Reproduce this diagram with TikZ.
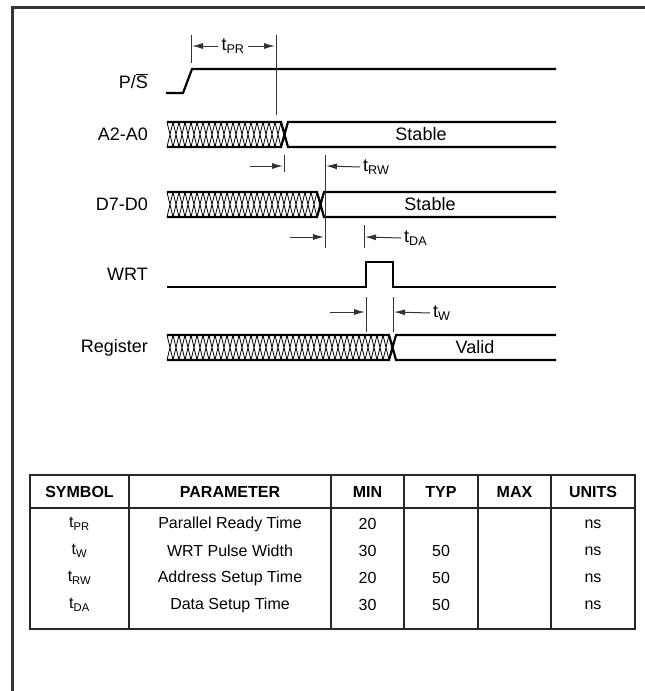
\documentclass[tikz,border=0pt]{standalone}
\usepackage{fontspec}
\setmainfont{Liberation Sans}
\usetikzlibrary{arrows.meta}
\usetikzlibrary{positioning}

\begin{document}
\begin{tikzpicture}[x=1pt,y=-1pt,
  sig/.style={line width=2.2pt,line join=miter},
  hatch/.style={line width=0.8pt},
  dim/.style={line width=1pt,color=black!80},
  dimarrow/.style={dim,-{Latex[length=11pt,width=6pt]}},
  lbl/.style={anchor=east,inner sep=0pt,font=\fontsize{18}{20}\selectfont},
  tlbl/.style={anchor=west,inner sep=0pt,font=\fontsize{18}{20}\selectfont},
  txt/.style={inner sep=0pt,font=\fontsize{18}{20}\selectfont},
  cell/.style={inner sep=0pt,font=\fontsize{16}{18}\selectfont},
  head/.style={inner sep=0pt,font=\fontsize{16}{18}\selectfont\bfseries},
  grid/.style={line width=2pt,color=black!85}]
\useasboundingbox (0,0) rectangle (645,691);
% frame
\draw[line width=3pt,color=black!80] (12,691) -- (12,7) -- (645,7);

% signal names
\node[lbl] (ps) at (148,81) {P/$\overline{\hbox{S}}$};
\node[lbl] (addr) at (148,134.5) {A2-A0};
\node[lbl] (data) at (148,204.5) {D7-D0};
\node[lbl] (wrt) at (148,274.5) {WRT};
\node[lbl] (reg) at (148,347.5) {Register};

% P/S
\draw[sig] (166,93) -- (183,93) -- (192,69) -- (556,69);

% A2-A0
\foreach \x in {167,173,...,275}
  \draw[hatch] (\x,122) -- (\x+6,147) (\x,147) -- (\x+6,122);
\draw[sig] (167,122) -- (281,122) -- (284.5,134.5) -- (288,122) -- (556,122);
\draw[sig] (167,147) -- (281,147) -- (284.5,134.5) -- (288,147) -- (556,147);
\node[txt] (addrok) at (421,134.5) {Stable};

% D7-D0
\foreach \x in {167,173,...,311}
  \draw[hatch] (\x,192) -- (\x+6,217) (\x,217) -- (\x+6,192);
\draw[sig] (167,192) -- (317,192) -- (320.5,204.5) -- (324,192) -- (556,192);
\draw[sig] (167,217) -- (317,217) -- (320.5,204.5) -- (324,217) -- (556,217);
\node[txt] (dataok) at (430,204.5) {Stable};

% WRT
\draw[sig] (167,287) -- (366,287) -- (366,262) -- (393,262) -- (393,287) -- (556,287);

% Register
\foreach \x in {167,173,...,383}
  \draw[hatch] (\x,335) -- (\x+6,360) (\x,360) -- (\x+6,335);
\draw[sig] (167,335) -- (389,335) -- (392.5,347.5) -- (396,335) -- (556,335);
\draw[sig] (167,360) -- (389,360) -- (392.5,347.5) -- (396,360) -- (556,360);
\node[txt] (regok) at (475,347.5) {Valid};

% tPR
\draw[dim] (191,35) -- (191,63);
\draw[dim] (276,35) -- (276,115);
\node[txt] (tpr) at (233,46) {t\textsubscript{PR}};
\draw[dimarrow] ([xshift=-3pt]tpr.west) -- (192,46);
\draw[dimarrow] ([xshift=3pt]tpr.east) -- (275,46);

% tRW
\draw[dim] (284,155) -- (284,172);
\draw[dim] (325,155) -- (325,248);
\node[tlbl] (trw) at (363,167) {t\textsubscript{RW}};
\draw[dimarrow] (250,166) -- (283,166);
\draw[dimarrow] ([xshift=-3pt]trw.west) -- (326,166);

% tDA
\draw[dim] (364,225) -- (364,248);
\node[tlbl] (tda) at (404,238) {t\textsubscript{DA}};
\draw[dimarrow] (290,237) -- (324,237);
\draw[dimarrow] ([xshift=-3pt]tda.west) -- (365,237);

% tW
\draw[dim] (366,297) -- (366,332);
\draw[dim] (393,297) -- (393,332);
\node[tlbl] (tw) at (433,313) {t\textsubscript{W}};
\draw[dimarrow] (330,312) -- (365,312);
\draw[dimarrow] ([xshift=-3pt]tw.west) -- (394,312);

% table
\draw[grid] (30,475) rectangle (635,629);
\draw[grid] (30,508) -- (635,508);
\foreach \x in {129,331,404,478,551}
  \draw[grid] (\x,475) -- (\x,629);
\node[head] (hsym) at (79.5,491.5) {SYMBOL};
\node[head] (hpar) at (230,491.5) {PARAMETER};
\node[head] (hmin) at (367.5,491.5) {MIN};
\node[head] (htyp) at (441,491.5) {TYP};
\node[head] (hmax) at (514.5,491.5) {MAX};
\node[head] (hunit) at (593,491.5) {UNITS};
\foreach \y/\s/\p/\mn/\ty [count=\i] in
  {524/PR/Parallel Ready Time/20/{},
   551/W/WRT Pulse Width/30/50,
   578/RW/Address Setup Time/20/50,
   605/DA/Data Setup Time/30/50}
{
  \node[cell] (sym\i) at (79.5,\y) {t\textsubscript{\s}};
  \node[cell] (par\i) at (230,\y) {\p};
  \node[cell] (min\i) at (367.5,\y) {\mn};
  \node[cell] (typ\i) at (441,\y) {\ty};
  \node[cell] (unit\i) at (593,\y) {ns};
}
\end{tikzpicture}
\end{document}
